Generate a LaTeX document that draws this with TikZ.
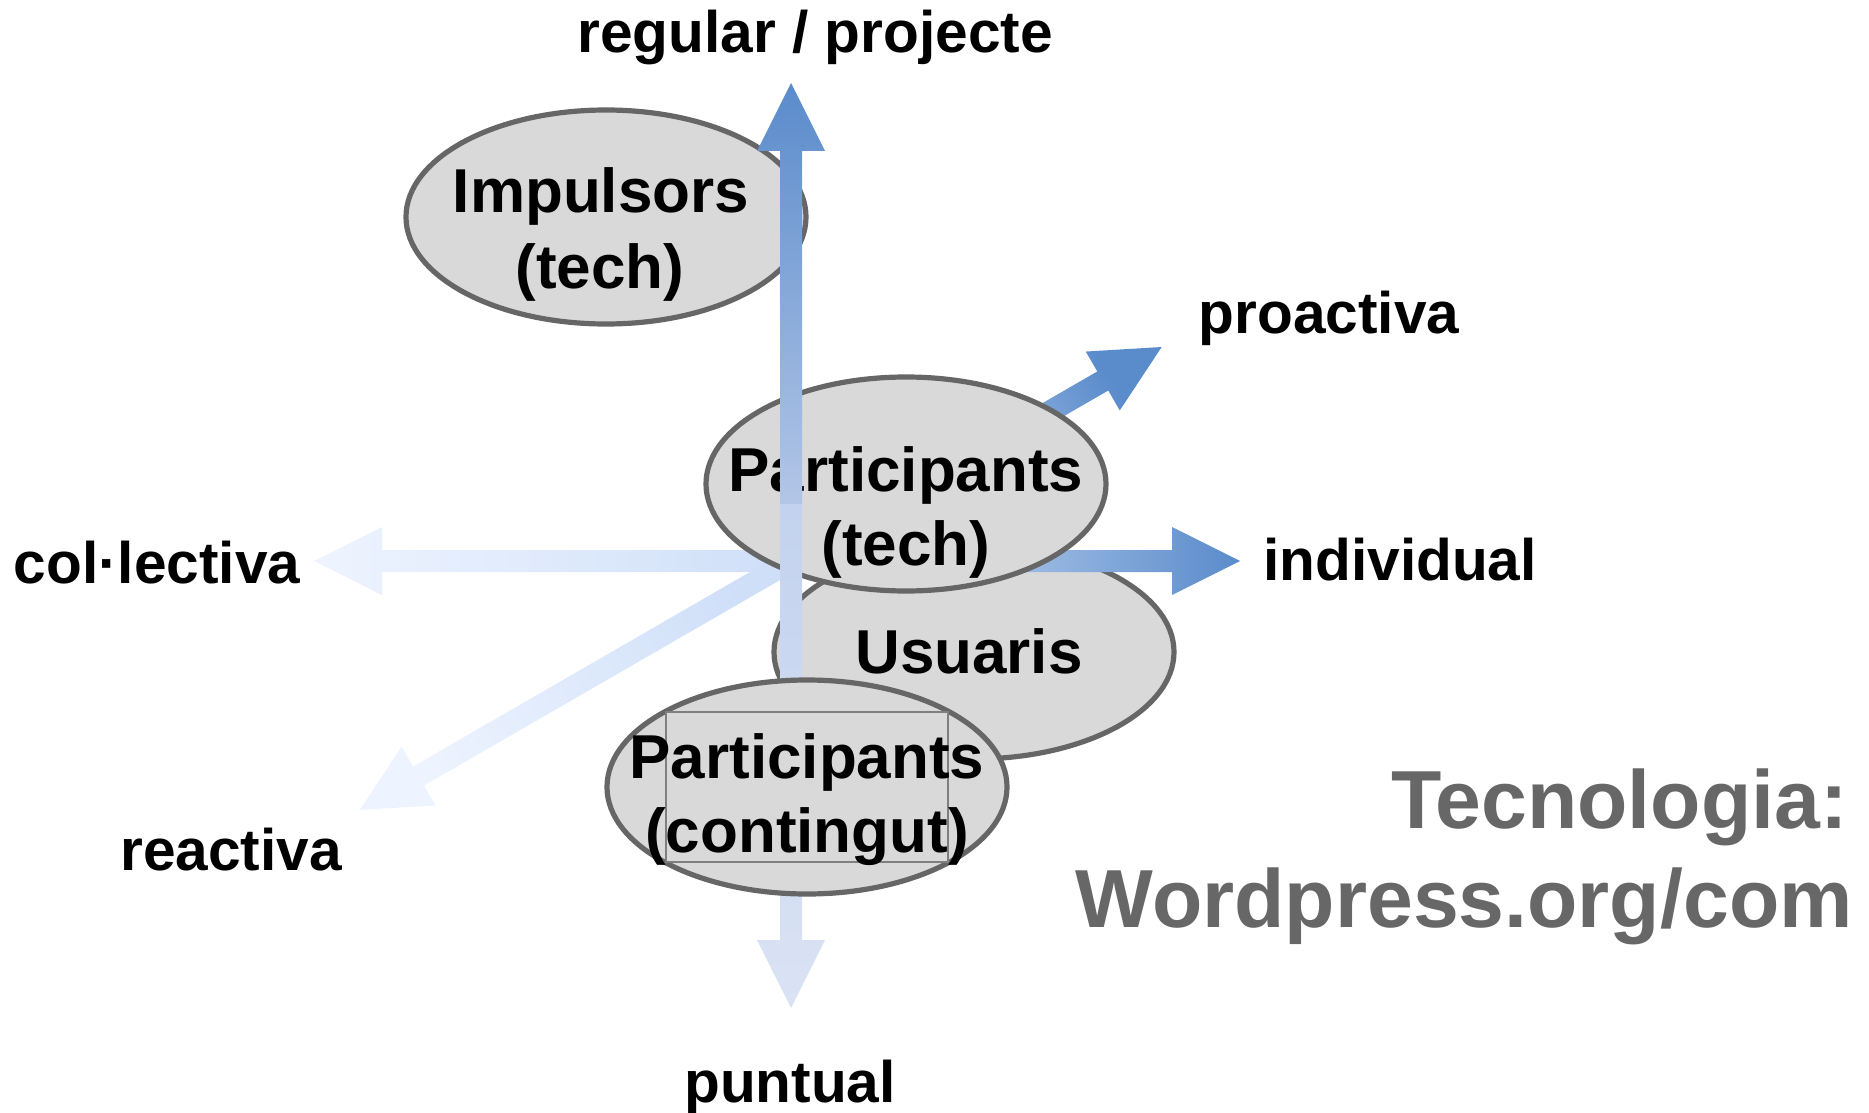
\documentclass[tikz,border=0pt]{standalone}
\usepackage{fontspec}
\setmainfont{Liberation Sans}
\usetikzlibrary{shapes.geometric,calc}
\definecolor{blobfill}{HTML}{D9D9D9}
\definecolor{blobedge}{HTML}{666666}
\definecolor{rectedge}{HTML}{7F7F7F}
\definecolor{techgray}{HTML}{676767}
\definecolor{darkEnd}{HTML}{5A8BCB}
\definecolor{upLow}{HTML}{B3C6E7}
\definecolor{downHigh}{HTML}{C3D2EE}
\definecolor{downLow}{HTML}{DAE3F4}
\definecolor{midStart}{HTML}{E4EEFC}
\definecolor{lightStart}{HTML}{CFDFF8}
\definecolor{lightEnd}{HTML}{EEF4FF}
% #1 start coordinate, #2 direction angle, #3 length, #4 start colour, #5 end colour, #6 shading angle
\newcommand{\fatarrow}[6]{%
  \shade[top color=#5, bottom color=#4, shading angle=#6]
    ($(#1)+({#2+90}:11)$) -- ($(#1)+(#2:{#3-68})+({#2+90}:11)$)
    -- ($(#1)+(#2:{#3-68})+({#2+90}:34)$) -- ($(#1)+(#2:#3)$)
    -- ($(#1)+(#2:{#3-68})+({#2-90}:34)$) -- ($(#1)+(#2:{#3-68})+({#2-90}:11)$)
    -- ($(#1)+({#2-90}:11)$) -- cycle;}
\begin{document}
\begin{tikzpicture}[x=0.5pt,y=0.5pt,
  blob/.style={ellipse, draw=blobedge, line width=2.6pt, fill=blobfill,
    minimum width=200pt, minimum height=107pt, inner sep=0pt},
  etext/.style={font=\fontsize{31}{37}\selectfont\bfseries, anchor=base, inner sep=0pt},
  lbl/.style={font=\fontsize{29.3}{35}\selectfont\bfseries, anchor=base, inner sep=0pt},
  techtxt/.style={font=\fontsize{41.2}{49}\selectfont\bfseries, text=techgray, anchor=base east, inner sep=0pt},
  txtbox/.style={draw=rectedge, line width=0.8pt, fill=blobfill, minimum width=141pt, minimum height=75pt, inner sep=0pt}]
\useasboundingbox (0,0) rectangle (1869,-1113);
\coordinate (ctr) at (791,-561);
\coordinate (seam) at (791,-504);

% back ellipses
\node[blob] (imp) at (606,-217) {};
\node[etext] (impA) at (601,-213) {Impulsors};
\node[etext] (impB) at (600,-288) {(tech)};

\node[blob] (usu) at (974,-652) {};
\node[etext] (usuA) at (969,-673) {Usuaris};

% horizontal and diagonal arrows
\fatarrow{ctr}{180}{477}{lightStart}{lightEnd}{90}
\fatarrow{ctr}{210}{498}{lightStart}{lightEnd}{120}
\fatarrow{ctr}{0}{449}{midStart}{darkEnd}{-90}
\fatarrow{ctr}{30}{428}{midStart}{darkEnd}{-60}

% participants (tech)
\node[blob] (ptec) at (906,-484) {};
\node[etext] (ptecA) at (906,-491) {Participants};
\node[etext] (ptecB) at (906,-565) {(tech)};

% vertical arrows
\fatarrow{seam}{90}{421}{upLow}{darkEnd}{0}
\fatarrow{seam}{270}{504}{downHigh}{downLow}{180}

% participants (contingut)
\node[blob] (pcon) at (807,-787) {};
\node[txtbox] (pbox) at (807,-787) {};
\node[etext] (pconA) at (807,-778) {Participants};
\node[etext] (pconB) at (807,-852) {(contingut)};

% axis labels
\node[lbl] (lreg) at (815,-53) {regular / projecte};
\node[lbl] (lpro) at (1329,-333) {proactiva};
\node[lbl] (lcol) at (157,-583) {col·lectiva};
\node[lbl] (lind) at (1400,-580) {individual};
\node[lbl] (lrea) at (231,-870) {reactiva};
\node[lbl] (lpun) at (790,-1102) {puntual};

\node[techtxt] (tec1) at (1848,-828) {Tecnologia:};
\node[techtxt] (tec2) at (1853,-927) {Wordpress.org/com};
\end{tikzpicture}
\end{document}
